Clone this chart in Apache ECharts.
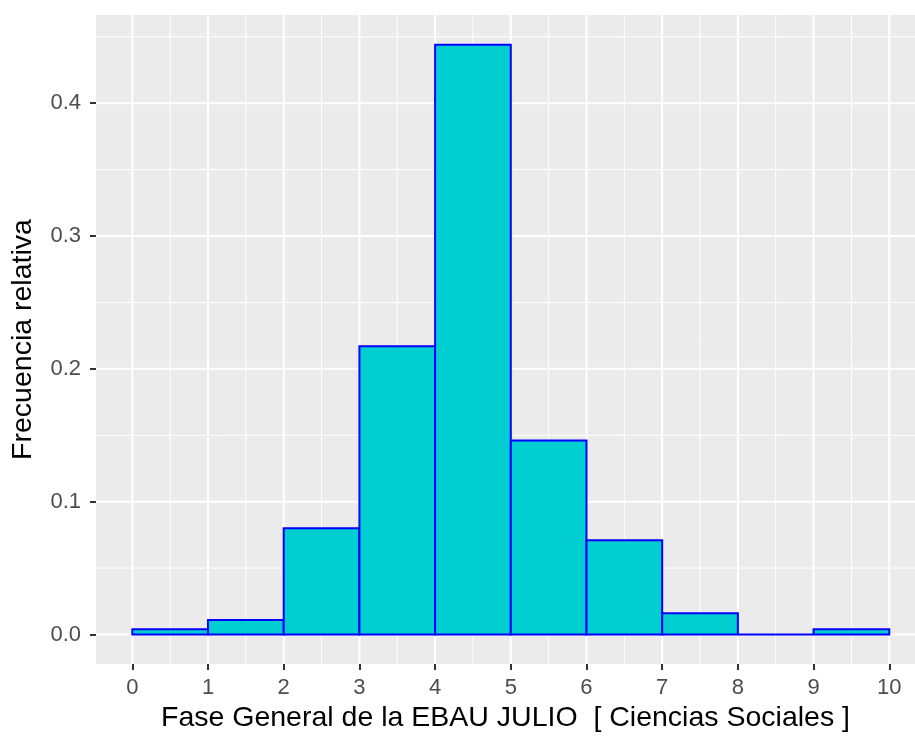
<!DOCTYPE html>
<html>
<head>
<meta charset="utf-8">
<script src="https://cdn.jsdelivr.net/npm/echarts@6/dist/echarts.min.js"></script>
<style>
html,body{margin:0;padding:0;background:#fff;}
#chart{width:915px;height:743px;}
</style>
</head>
<body>
<div id="chart"></div>
<script>
// ---- data ----
const binStart = [0, 1, 2, 3, 4, 5, 6, 7, 8, 9];
const binEnd   = [1, 2, 3, 4, 5, 6, 7, 8, 9, 10];
const relFreq  = [0.004, 0.011, 0.080, 0.217, 0.444, 0.146, 0.071, 0.016, 0.0, 0.004];
const xTicks = [0, 1, 2, 3, 4, 5, 6, 7, 8, 9, 10];
const yTicks = [0, 0.1, 0.2, 0.3, 0.4];
const xMinor = [0.5, 1.5, 2.5, 3.5, 4.5, 5.5, 6.5, 7.5, 8.5, 9.5];
const yMinor = [0.05, 0.15, 0.25, 0.35, 0.45];
const xTitle = 'Fase General de la EBAU JULIO  [ Ciencias Sociales ]';
const yTitle = 'Frecuencia relativa';

const X_MIN = -0.48, X_MAX = 10.34;
const Y_MIN = -0.0222, Y_MAX = 0.4664;

const gridData = [];
xMinor.forEach(v => gridData.push(['x', v, 1]));
yMinor.forEach(v => gridData.push(['y', v, 1]));
xTicks.forEach(v => gridData.push(['x', v, 2]));
yTicks.forEach(v => gridData.push(['y', v, 2]));

const histData = binStart.map((s, i) => [s, binEnd[i], relFreq[i]]);

const FONT = 'Liberation Sans, Arial, sans-serif';
const chart = echarts.init(document.getElementById('chart'), null, {renderer: 'canvas'});
chart.setOption({
  animation: false,
  backgroundColor: '#ffffff',
  grid: {
    left: 96, right: 0, top: 15, bottom: 79,
    show: true, backgroundColor: '#EBEBEB', borderWidth: 0,
    containLabel: false
  },
  xAxis: {
    type: 'value', min: X_MIN, max: X_MAX,
    axisLine: {show: false, onZero: false},
    axisTick: {show: true, customValues: xTicks, length: 6, lineStyle: {color: '#333333', width: 2}},
    axisLabel: {customValues: xTicks, color: '#4D4D4D', fontSize: 22, fontFamily: FONT, margin: 13},
    splitLine: {show: false},
    name: xTitle, nameLocation: 'middle', nameGap: 36,
    nameTextStyle: {color: '#000000', fontSize: 28.5, fontFamily: FONT}
  },
  yAxis: {
    type: 'value', min: Y_MIN, max: Y_MAX,
    axisLine: {show: false, onZero: false},
    axisTick: {show: true, customValues: yTicks, length: 6, lineStyle: {color: '#333333', width: 2}},
    axisLabel: {customValues: yTicks, color: '#4D4D4D', fontSize: 22, fontFamily: FONT, margin: 15,
      formatter: v => v.toFixed(1)},
    splitLine: {show: false},
    name: yTitle, nameLocation: 'middle', nameGap: 58, nameRotate: 90,
    nameTextStyle: {color: '#000000', fontSize: 28.5, fontFamily: FONT}
  },
  series: [
    {
      type: 'custom', z: 1, silent: true,
      data: gridData,
      renderItem: function (params, api) {
        const dir = api.value(0);
        const v = api.value(1);
        const w = api.value(2);
        let p1, p2;
        if (dir === 'x') { p1 = api.coord([v, Y_MIN]); p2 = api.coord([v, Y_MAX]); }
        else { p1 = api.coord([X_MIN, v]); p2 = api.coord([X_MAX, v]); }
        return {type: 'line', shape: {x1: p1[0], y1: p1[1], x2: p2[0], y2: p2[1]},
          style: {stroke: '#FFFFFF', lineWidth: w}};
      },
      dimensions: [{name: 'dir', type: 'ordinal'}, 'v', 'w'],
      encode: {x: 1, y: 1}
    },
    {
      type: 'custom', z: 5, silent: true,
      data: histData,
      renderItem: function (params, api) {
        const p0 = api.coord([api.value(0), 0]);
        const p1 = api.coord([api.value(1), api.value(2)]);
        return {type: 'rect', shape: {x: p0[0], y: p1[1], width: p1[0] - p0[0], height: p0[1] - p1[1]},
          style: {fill: '#00CED1', stroke: '#0000FF', lineWidth: 2}};
      },
      encode: {x: [0, 1], y: 2}
    }
  ]
});
</script>
</body>
</html>
